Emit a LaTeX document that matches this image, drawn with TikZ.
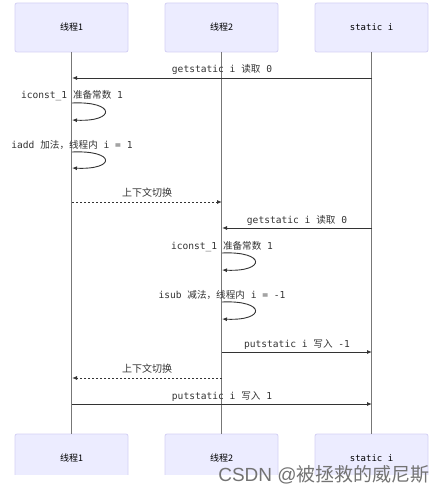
\documentclass[tikz,border=0pt]{standalone}
\usepackage{fontspec}
\setmonofont{DejaVu Sans Mono}
\newfontfamily\cjk{Noto Sans CJK SC}
\newfontfamily\wmfont{Liberation Sans}
\usetikzlibrary{arrows.meta}
\definecolor{actfill}{HTML}{ECECFF}
\definecolor{actline}{HTML}{D4D0F4}
\definecolor{lifegray}{HTML}{777777}
\definecolor{msg}{HTML}{333333}
\tikzset{
  actor/.style={draw=actline, fill=actfill, rounded corners=2pt, line width=0.8pt,
    minimum width=113pt, minimum height=49pt, inner sep=0pt, font=\fontsize{9}{10}\selectfont},
  life/.style={draw=lifegray, line width=1.2pt},
  msgline/.style={draw=msg, line width=0.9pt, -{Latex[length=5pt,width=4pt]}},
  dashmsg/.style={msgline, dash pattern=on 2pt off 2pt},
  lbl/.style={font=\fontsize{9.6}{11}\ttfamily, text=msg, inner sep=0pt, anchor=base},
}
\begin{document}
\begin{tikzpicture}[x=1pt,y=-1pt]
\useasboundingbox (0,0) rectangle (446,492);
% top actors
\node[actor] (t1) at (71.5,27.5) {\cjk 线程1};
\node[actor] (t2) at (221.5,27.5) {\cjk 线程2};
\node[actor] (t3) at (371.5,27.5) {\ttfamily static i};
% bottom actors (cropped at bottom)
\begin{scope}
\clip (0,430) rectangle (446,474.5);
\node[actor] (b1) at (71.5,458.5) {\cjk 线程1};
\node[actor] (b2) at (221.5,458.5) {\cjk 线程2};
\node[actor] (b3) at (371.5,458.5) {\ttfamily static i};
\end{scope}
% lifelines
\draw[life] (t1.south) -- (b1.north);
\draw[life] (t2.south) -- (b2.north);
\draw[life] (t3.south) -- (b3.north);
% anchor coordinates on lifelines
\foreach \y in {78,103,120,152,168,202,228,253,270,302,319,352,378,404}{
  \coordinate (a\y) at (72,\y);
  \coordinate (b\y) at (222,\y);
  \coordinate (c\y) at (372,\y);
}
% 1
\draw[msgline] (c78) -- (a78);
\node[lbl] (m1) at (222,73) {getstatic i {\cjk 读取} 0};
% 2
\node[lbl] (m2) at (72,99) {iconst\_1 {\cjk 准备常数} 1};
\draw[msgline] (a103) .. controls (116,101) and (116,122) .. (a120);
% 3
\node[lbl] (m3) at (72,148) {iadd {\cjk 加法，线程内} i = 1};
\draw[msgline] (a152) .. controls (116,150) and (116,170) .. (a168);
% 4
\draw[dashmsg] (a202) -- (b202);
\node[lbl,font=\fontsize{10}{11}\cjk] (m4) at (147,196) {上下文切换};
% 5
\draw[msgline] (c228) -- (b228);
\node[lbl] (m5) at (297,223) {getstatic i {\cjk 读取} 0};
% 6
\node[lbl] (m6) at (222,249) {iconst\_1 {\cjk 准备常数} 1};
\draw[msgline] (b253) .. controls (266,251) and (266,272) .. (b270);
% 7
\node[lbl] (m7) at (222,298) {isub {\cjk 减法，线程内} i = -1};
\draw[msgline] (b302) .. controls (266,300) and (266,321) .. (b319);
% 8
\draw[msgline] (b352) -- (c352);
\node[lbl] (m8) at (297,347) {putstatic i {\cjk 写入} -1};
% 9
\draw[dashmsg] (b378) -- (a378);
\node[lbl,font=\fontsize{10}{11}\cjk] (m9) at (147,372) {上下文切换};
% 10
\draw[msgline] (a404) -- (c404);
\node[lbl] (m10) at (222,399) {putstatic i {\cjk 写入} 1};
% watermark
\node[anchor=base, inner sep=0pt, text=black!55, font=\fontsize{19}{20}\selectfont] (wm) at (324,481)
  {\wmfont CSDN @{\cjk 被拯救的威尼斯}};
\end{tikzpicture}
\end{document}
